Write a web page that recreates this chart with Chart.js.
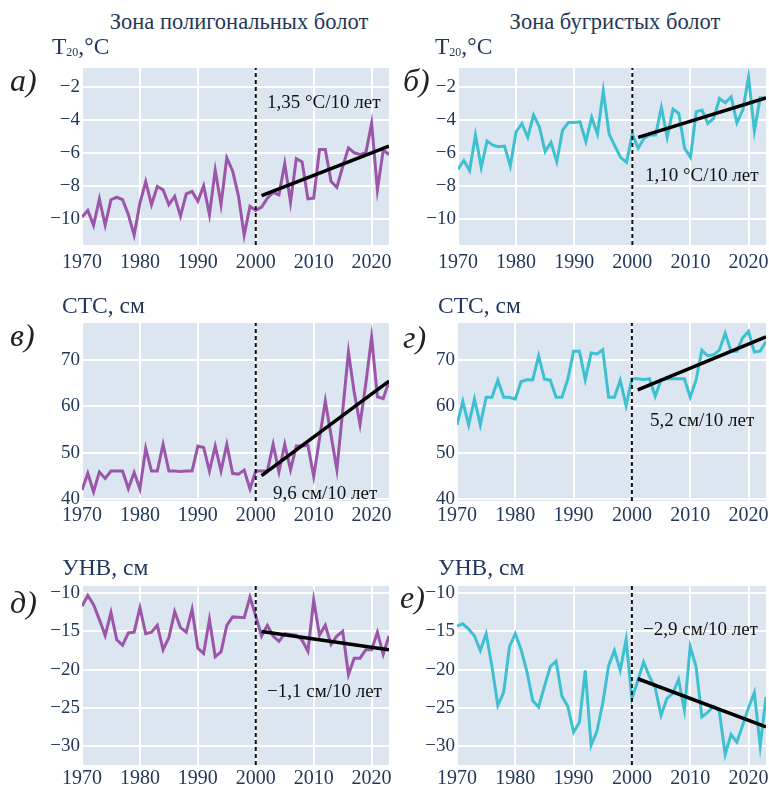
<!DOCTYPE HTML>
<html>
<head>
<meta charset="utf-8">
<script src="https://cdn.jsdelivr.net/npm/chart.js"></script>
<style>
    body { margin: 0; background: #fff; font-family: "Liberation Serif", serif; color: #22375a; }
    #page { position: relative; width: 769px; height: 787px; overflow: hidden; }
    .lbl { position: absolute; white-space: nowrap; line-height: 1; transform: translateY(-50%); z-index: 2; }
    .zone { font-size: 22.5px; transform: translate(-50%, -50%); }
    .axt { font-size: 23.5px; }
    .axt sub { font-size: 12px; vertical-align: -2px; }
    .let { font-size: 32px; font-style: italic; color: #222; }
    .trend { font-size: 19px; color: #111; }
    canvas { position: absolute; z-index: 1; }
</style>
</head>
<body>
<div id="page">
    <div class="lbl zone" style="left:239px; top:22px;">Зона полигональных болот</div>
    <div class="lbl zone" style="left:615px; top:22px;">Зона бугристых болот</div>

    <div class="lbl axt" style="left:52px; top:47px;">T<sub>20</sub>,°C</div>
    <div class="lbl axt" style="left:435px; top:47px;">T<sub>20</sub>,°C</div>
    <div class="lbl axt" style="left:62px; top:306px;">СТС, см</div>
    <div class="lbl axt" style="left:438px; top:306px;">СТС, см</div>
    <div class="lbl axt" style="left:62px; top:568px;">УНВ, см</div>
    <div class="lbl axt" style="left:438px; top:568px;">УНВ, см</div>

    <div class="lbl let" style="left:10px; top:80px;">а)</div>
    <div class="lbl let" style="left:403px; top:80px;">б)</div>
    <div class="lbl let" style="left:10px; top:335px;">в)</div>
    <div class="lbl let" style="left:403px; top:337px;">г)</div>
    <div class="lbl let" style="left:10px; top:602px;">д)</div>
    <div class="lbl let" style="left:400px; top:597px;">е)</div>

    <div class="lbl trend" style="left:267px; top:101px;">1,35 °C/10 лет</div>
    <div class="lbl trend" style="left:645px; top:174px;">1,10 °C/10 лет</div>
    <div class="lbl trend" style="left:273px; top:492px;">9,6 см/10 лет</div>
    <div class="lbl trend" style="left:650px; top:419px;">5,2 см/10 лет</div>
    <div class="lbl trend" style="left:267px; top:690px;">−1,1 см/10 лет</div>
    <div class="lbl trend" style="left:643px; top:628px;">−2,9 см/10 лет</div>
</div>

<script>
    // years 1970-2023
    const years = [1970, 1971, 1972, 1973, 1974, 1975, 1976, 1977, 1978, 1979,
                   1980, 1981, 1982, 1983, 1984, 1985, 1986, 1987, 1988, 1989,
                   1990, 1991, 1992, 1993, 1994, 1995, 1996, 1997, 1998, 1999,
                   2000, 2001, 2002, 2003, 2004, 2005, 2006, 2007, 2008, 2009,
                   2010, 2011, 2012, 2013, 2014, 2015, 2016, 2017, 2018, 2019,
                   2020, 2021, 2022, 2023];

    // T20, polygonal mires
    const t20Poly = [-9.9, -9.5, -10.4, -8.8, -10.4, -8.85, -8.7, -8.85, -9.75, -11.0,
                     -9.05, -7.75, -9.15, -8.05, -8.25, -9.15, -8.65, -9.85, -8.5, -8.35,
                     -8.95, -8.0, -9.75, -7.05, -9.15, -6.3, -7.1, -8.6, -11.0, -9.25,
                     -9.5, -9.3, -8.75, -8.4, -8.55, -6.65, -9.0, -6.35, -6.55, -8.8,
                     -8.75, -5.8, -5.8, -7.75, -8.1, -6.85, -5.7, -6.0, -6.1, -6.0,
                     -4.2, -8.25, -5.85, -6.1];
    // T20, palsa mires
    const t20Hill = [-7.0, -6.47, -7.08, -4.92, -6.88, -5.29, -5.54, -5.63, -5.59, -6.8,
                     -4.72, -4.22, -5.06, -3.71, -4.42, -5.93, -5.37, -6.54, -4.62, -4.16,
                     -4.16, -4.12, -5.33, -3.85, -4.86, -2.24, -4.86, -5.59, -6.29, -6.58,
                     -4.86, -5.73, -5.12, -4.92, -4.92, -3.25, -5.06, -3.35, -3.61, -5.73,
                     -6.27, -3.51, -3.41, -4.22, -3.91, -2.7, -2.96, -2.6, -4.18, -3.41,
                     -1.4, -4.66, -2.65, -2.7];
    // active layer depth (СТС), cm
    const ctsPoly = [41.9, 45.5, 41.5, 45.8, 44.4, 46.0, 46.0, 46.0, 42.2, 45.7,
                     42.1, 50.9, 46.0, 46.0, 51.8, 46.0, 46.0, 45.9, 46.0, 46.0,
                     51.4, 51.1, 46.0, 51.4, 46.0, 51.8, 45.5, 45.3, 46.2, 42.1,
                     46.0, 46.0, 46.0, 51.8, 45.8, 51.8, 46.3, 51.4, 51.4, 51.6,
                     44.8, 53.0, 61.2, 53.7, 46.3, 59.0, 71.8, 63.0, 56.1, 65.0,
                     75.0, 62.1, 61.7, 65.5];
    const ctsHill = [56.0, 61.1, 56.0, 61.6, 56.0, 62.0, 62.0, 65.7, 62.0, 62.0,
                     61.6, 65.4, 65.8, 65.8, 71.0, 65.9, 65.7, 62.0, 62.0, 65.9,
                     72.0, 72.0, 65.8, 71.6, 71.4, 72.3, 62.0, 62.0, 65.7, 60.2,
                     66.0, 66.0, 65.8, 66.0, 62.2, 65.8, 66.0, 66.0, 66.0, 66.0,
                     62.0, 65.7, 72.2, 71.0, 71.2, 72.2, 75.9, 72.0, 72.0, 74.9,
                     76.3, 71.8, 72.0, 74.1];
    // water table (УНВ), cm
    const wtPoly = [-11.7, -10.3, -11.5, -13.45, -15.55, -12.5, -16.1, -16.8, -15.2, -15.1,
                    -11.9, -15.3, -15.1, -14.2, -17.4, -15.8, -12.4, -14.5, -15.1, -12.1,
                    -17.2, -17.9, -13.45, -18.3, -17.7, -14.2, -13.1, -13.15, -13.2, -10.5,
                    -13.0, -15.6, -14.2, -15.6, -16.3, -15.3, -15.4, -15.5, -16.15, -17.6,
                    -10.9, -15.5, -14.2, -16.7, -15.6, -15.0, -20.65, -18.5, -18.5, -17.4,
                    -17.4, -15.1, -18.0, -15.6];
    const wtHill = [-14.3, -14.0, -14.7, -15.6, -17.5, -15.3, -19.6, -24.7, -23.0, -17.0,
                    -15.3, -17.4, -20.3, -24.1, -24.9, -22.2, -19.6, -18.9, -23.5, -24.8,
                    -28.2, -26.9, -20.1, -29.9, -28.1, -24.4, -19.5, -17.5, -20.1, -16.1,
                    -23.8, -21.5, -19.0, -20.9, -22.4, -26.0, -23.8, -23.1, -21.3, -25.3,
                    -17.0, -19.6, -26.2, -25.6, -24.8, -25.5, -31.1, -28.5, -29.5, -27.3,
                    -25.0, -23.0, -30.0, -23.6];

    // linear trends 2001-2023 (start, end)
    const trendYears = [2001, 2023];
    const trendT20Poly = [-8.6, -5.6];
    const trendT20Hill = [-5.06, -2.66];
    const trendCtsPoly = [45.0, 65.5];
    const trendCtsHill = [63.6, 75.1];
    const trendWtPoly = [-15.0, -17.4];
    const trendWtHill = [-21.2, -27.5];
    const splitYear = 2000;

    const PURPLE = '#9b56aa';
    const CYAN = '#3fc0d0';
    const NAVY = '#22375a';
    const SERIF = "'Liberation Serif', 'Times New Roman', serif";

    Chart.defaults.font.family = SERIF;

    const panels = [
        { vals: t20Poly, trend: trendT20Poly, color: PURPLE, yMin: -11.6, yMax: -0.85, step: 2, left: 82, top: 68, right: 389, bottom: 245, xPad: 6 },
        { vals: t20Hill, trend: trendT20Hill, color: CYAN, yMin: -11.6, yMax: -0.85, step: 2, left: 458, top: 68, right: 766, bottom: 245, xPad: 6 },
        { vals: ctsPoly, trend: trendCtsPoly, color: PURPLE, yMin: 39.5, yMax: 78.1, step: 10, left: 82, top: 323, right: 389, bottom: 501, xPad: 3 },
        { vals: ctsHill, trend: trendCtsHill, color: CYAN, yMin: 39.5, yMax: 78.1, step: 10, left: 457, top: 323, right: 766, bottom: 501, xPad: 3 },
        { vals: wtPoly, trend: trendWtPoly, color: PURPLE, yMin: -32.5, yMax: -9.05, step: 5, left: 82, top: 586, right: 389, bottom: 765, xPad: 2 },
        { vals: wtHill, trend: trendWtHill, color: CYAN, yMin: -32.5, yMax: -9.05, step: 5, left: 457, top: 586, right: 766, bottom: 765, xPad: 2 }
    ];

    const plotBg = {
        id: 'plotBg',
        beforeDraw(chart) {
            const a = chart.chartArea;
            const ctx = chart.ctx;
            ctx.save();
            ctx.fillStyle = '#dce6f1';
            ctx.fillRect(a.left, a.top, a.right - a.left, a.bottom - a.top);
            ctx.restore();
        }
    };

    const page = document.getElementById('page');
    const Y_W = 50, X_H = 30, PAD_T = 10, PAD_R = 3;

    panels.forEach(p => {
        const cv = document.createElement('canvas');
        const w = p.right - p.left + Y_W + PAD_R;
        const h = p.bottom - p.top + PAD_T + X_H;
        cv.width = w; cv.height = h;
        cv.style.width = w + 'px'; cv.style.height = h + 'px';
        cv.style.left = (p.left - Y_W) + 'px';
        cv.style.top = (p.top - PAD_T) + 'px';
        page.appendChild(cv);

        new Chart(cv, {
            type: 'line',
            data: {
                datasets: [
                    {
                        data: trendYears.map((x, i) => ({ x: x, y: p.trend[i] })),
                        borderColor: '#000', borderWidth: 3.5, pointRadius: 0
                    },
                    {
                        data: [{ x: splitYear, y: p.yMin }, { x: splitYear, y: p.yMax }],
                        borderColor: '#111', borderWidth: 2, borderDash: [4, 3], pointRadius: 0
                    },
                    {
                        data: years.map((x, i) => ({ x: x, y: p.vals[i] })),
                        borderColor: p.color, borderWidth: 3, pointRadius: 0, tension: 0
                    }
                ]
            },
            options: {
                responsive: false,
                animation: false,
                layout: { padding: { top: PAD_T, right: PAD_R, left: 0, bottom: 0 } },
                plugins: { legend: { display: false }, tooltip: { enabled: false } },
                scales: {
                    x: {
                        type: 'linear', min: 1970, max: 2023,
                        border: { display: false },
                        grid: { color: '#fff', lineWidth: 2, drawTicks: false },
                        ticks: {
                            stepSize: 10, includeBounds: false, maxRotation: 0, autoSkip: false,
                            padding: p.xPad, color: NAVY,
                            font: { family: SERIF, size: 20 },
                            callback: v => String(v)
                        },
                        afterFit: s => { s.height = X_H; s.paddingLeft = 0; s.paddingRight = 0; }
                    },
                    y: {
                        min: p.yMin, max: p.yMax,
                        border: { display: false },
                        grid: { color: '#fff', lineWidth: 2, drawTicks: false },
                        ticks: {
                            stepSize: p.step, includeBounds: false, padding: 2, color: NAVY,
                            font: { family: SERIF, size: 19 },
                            callback: v => String(v).replace('-', '−')
                        },
                        afterFit: s => { s.width = Y_W; s.paddingTop = 0; s.paddingBottom = 0; }
                    }
                }
            },
            plugins: [plotBg]
        });
    });
</script>
</body>
</html>
